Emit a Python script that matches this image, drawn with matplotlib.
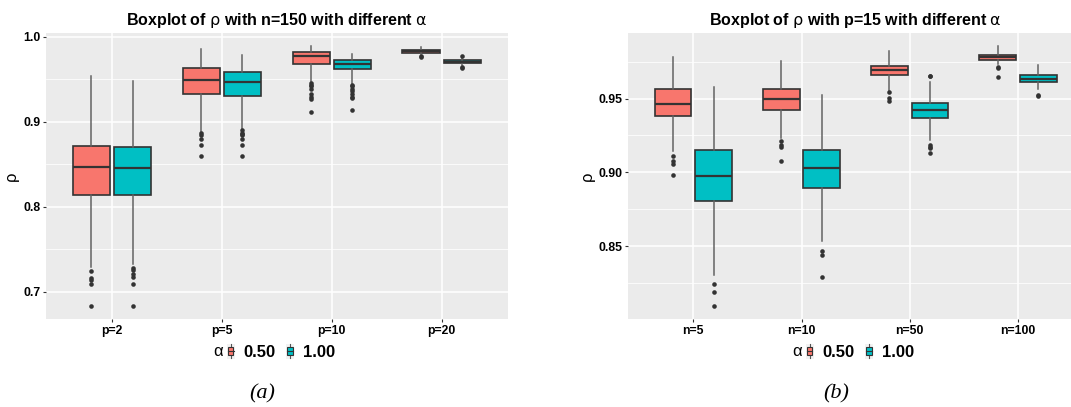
import matplotlib
matplotlib.use("Agg")
import matplotlib.pyplot as plt
import numpy as np
from matplotlib.legend_handler import HandlerBase
from matplotlib.lines import Line2D
from matplotlib.patches import Patch, Rectangle

plt.rcParams["font.family"] = ["Liberation Sans", "DejaVu Sans"]

# ---- data ----
left_cats = ["p=2", "p=5", "p=10", "p=20"]
left_05_lo = [0.7287, 0.8878, 0.9470, 0.9790]
left_05_q1 = [0.8138, 0.9327, 0.9674, 0.9810]
left_05_med = [0.8472, 0.9492, 0.9768, 0.9828]
left_05_q3 = [0.8713, 0.9626, 0.9815, 0.9846]
left_05_hi = [0.9539, 0.9854, 0.9886, 0.9875]
left_05_out = [
    [0.7244, 0.7169, 0.7138, 0.7091, 0.6831],
    [0.8866, 0.8839, 0.8791, 0.8728, 0.8594],
    [0.9453, 0.9430, 0.9414, 0.9390, 0.9324, 0.9296, 0.9265, 0.9119],
    [0.9775, 0.9762],
]
left_10_lo = [0.7323, 0.8909, 0.9440, 0.9665]
left_10_q1 = [0.8134, 0.9303, 0.9615, 0.9685]
left_10_med = [0.8460, 0.9461, 0.9680, 0.9703]
left_10_q3 = [0.8697, 0.9579, 0.9720, 0.9722]
left_10_hi = [0.9480, 0.9783, 0.9790, 0.9745]
left_10_out = [
    [0.7280, 0.7256, 0.7205, 0.7177, 0.7098, 0.6839],
    [0.8898, 0.8870, 0.8850, 0.8843, 0.8800, 0.8732, 0.8598],
    [0.9430, 0.9414, 0.9390, 0.9363, 0.9324, 0.9296, 0.9273, 0.9139],
    [0.9776, 0.9645, 0.9632],
]

right_cats = ["n=5", "n=10", "n=50", "n=100"]
right_05_lo = [0.9145, 0.9235, 0.9552, 0.9733]
right_05_q1 = [0.9382, 0.9425, 0.9656, 0.9762]
right_05_med = [0.9466, 0.9495, 0.9692, 0.9781]
right_05_q3 = [0.9561, 0.9561, 0.9722, 0.9797]
right_05_hi = [0.9778, 0.9751, 0.9824, 0.9853]
right_05_out = [
    [0.9109, 0.9075, 0.9057, 0.8980],
    [0.9215, 0.9187, 0.9174, 0.9079],
    [0.9543, 0.9505, 0.9486],
    [0.9712, 0.9705, 0.9645],
]
right_10_lo = [0.8308, 0.8534, 0.9220, 0.9563]
right_10_q1 = [0.8810, 0.8894, 0.9367, 0.9609]
right_10_med = [0.8975, 0.9029, 0.9425, 0.9633]
right_10_q3 = [0.9150, 0.9152, 0.9473, 0.9660]
right_10_hi = [0.9575, 0.9527, 0.9609, 0.9726]
right_10_out = [
    [0.8247, 0.8195, 0.8095],
    [0.8468, 0.8439, 0.8296],
    [0.9655, 0.9650, 0.9188, 0.9174, 0.9165, 0.9131],
    [0.9527, 0.9514],
]

alpha_labels = ["0.50", "1.00"]
colors = ["#F8766D", "#00BFC4"]

W, H = 1071, 407


def px(x):
    return x / W


def py(y):
    return 1 - y / H


class MiniBox(HandlerBase):
    def create_artists(self, legend, orig_handle, xdescent, ydescent, width, height, fontsize, trans):
        x0, y0 = -xdescent, -ydescent
        cx = x0 + width / 2
        bg = Rectangle((x0, y0), width, height, facecolor="#F2F2F2", edgecolor="none", transform=trans)
        wh = Line2D([cx, cx], [y0 + height * 0.05, y0 + height * 0.95], color="#555555", lw=0.8, transform=trans)
        box = Rectangle((x0 + width * 0.15, y0 + height * 0.25), width * 0.7, height * 0.5,
                        facecolor=orig_handle.get_facecolor(), edgecolor="#333333", lw=0.8, transform=trans)
        med = Line2D([x0 + width * 0.15, x0 + width * 0.85], [y0 + height / 2] * 2,
                     color="#333333", lw=0.8, transform=trans)
        return [bg, wh, box, med]


def draw_panel(ax, cats, groups, yticks, yfmt, minor):
    x = np.arange(1, len(cats) + 1)
    allv = []
    for (lo, q1, med, q3, hi, out), off, color in zip(groups, [-0.1875, 0.1875], colors):
        stats = [dict(whislo=lo[i], q1=q1[i], med=med[i], q3=q3[i], whishi=hi[i], fliers=out[i])
                 for i in range(len(cats))]
        for i in range(len(cats)):
            allv += [lo[i], hi[i]] + list(out[i])
        ax.bxp(stats, positions=x + off, widths=0.34, patch_artist=True, showcaps=False,
               boxprops=dict(facecolor=color, edgecolor="#333333", linewidth=1.2),
               medianprops=dict(color="#333333", linewidth=1.6),
               whiskerprops=dict(color="#636363", linewidth=1.1),
               flierprops=dict(marker="o", markerfacecolor="#333333", markeredgecolor="none", markersize=3.3),
               manage_ticks=False)
    lo_v, hi_v = min(allv), max(allv)
    pad = (hi_v - lo_v) * 0.05
    ax.set_ylim(lo_v - pad, hi_v + pad)
    ax.set_xlim(0.4, len(cats) + 0.6)
    ax.set_facecolor("#EBEBEB")
    for s in ax.spines.values():
        s.set_visible(False)
    ax.set_axisbelow(True)
    ax.set_xticks(x, cats, fontweight="bold")
    ax.set_yticks(yticks, [yfmt.format(v) for v in yticks], fontweight="bold")
    ax.set_yticks(minor, minor=True)
    ax.grid(which="major", color="white", linewidth=1.1)
    ax.grid(which="minor", axis="y", color="white", linewidth=0.55)
    ax.tick_params(which="major", length=2.5, width=0.8, color="#333333", labelsize=8.8, pad=1.5,
                   labelcolor="black")
    ax.tick_params(which="minor", length=0)
    ax.set_ylabel("ρ", fontsize=12, labelpad=3)


fig = plt.figure(figsize=(W / 100, H / 100), dpi=100)
ax1 = fig.add_axes([px(46), py(319.3), px(507.7 - 46), (319.3 - 33.3) / H])
ax2 = fig.add_axes([px(628.3), py(319.3), px(1083 - 628.3), (319.3 - 33.3) / H])

draw_panel(ax1, left_cats,
           [(left_05_lo, left_05_q1, left_05_med, left_05_q3, left_05_hi, left_05_out),
            (left_10_lo, left_10_q1, left_10_med, left_10_q3, left_10_hi, left_10_out)],
           [0.7, 0.8, 0.9, 1.0], "{:.1f}", [0.75, 0.85, 0.95])
draw_panel(ax2, right_cats,
           [(right_05_lo, right_05_q1, right_05_med, right_05_q3, right_05_hi, right_05_out),
            (right_10_lo, right_10_q1, right_10_med, right_10_q3, right_10_hi, right_10_out)],
           [0.85, 0.90, 0.95], "{:.2f}", [0.825, 0.875, 0.925, 0.975])

ax1.set_title(r"Boxplot of $\mathrm{\rho}$ with n=150 with different $\mathrm{\alpha}$",
              fontsize=11.5, fontweight="bold", pad=6)
ax2.set_title(r"Boxplot of $\mathrm{\rho}$ with p=15 with different $\mathrm{\alpha}$",
              fontsize=11.5, fontweight="bold", pad=6)

handles = [Patch(facecolor=c) for c in colors]
for key_x, alpha_x in [(226.7, 222.5), (805.6, 801.4)]:
    fig.legend(handles, alpha_labels, handler_map={Patch: MiniBox()}, loc="center left",
               bbox_to_anchor=(px(key_x), py(351.7)), ncol=2, frameon=False, borderpad=0,
               borderaxespad=0, handlelength=0.48, handleheight=1.0, handletextpad=0.55,
               columnspacing=0.6, prop=dict(weight="bold", size=12))
    fig.text(px(alpha_x), py(351.7), "α", ha="right", va="center", fontsize=12)

fig.text(px(262), py(394), "(a)", family="Liberation Serif", style="italic", fontsize=16,
         ha="center", va="center")
fig.text(px(836), py(394), "(b)", family="Liberation Serif", style="italic", fontsize=16,
         ha="center", va="center")

fig.savefig("out.png", dpi=100)
